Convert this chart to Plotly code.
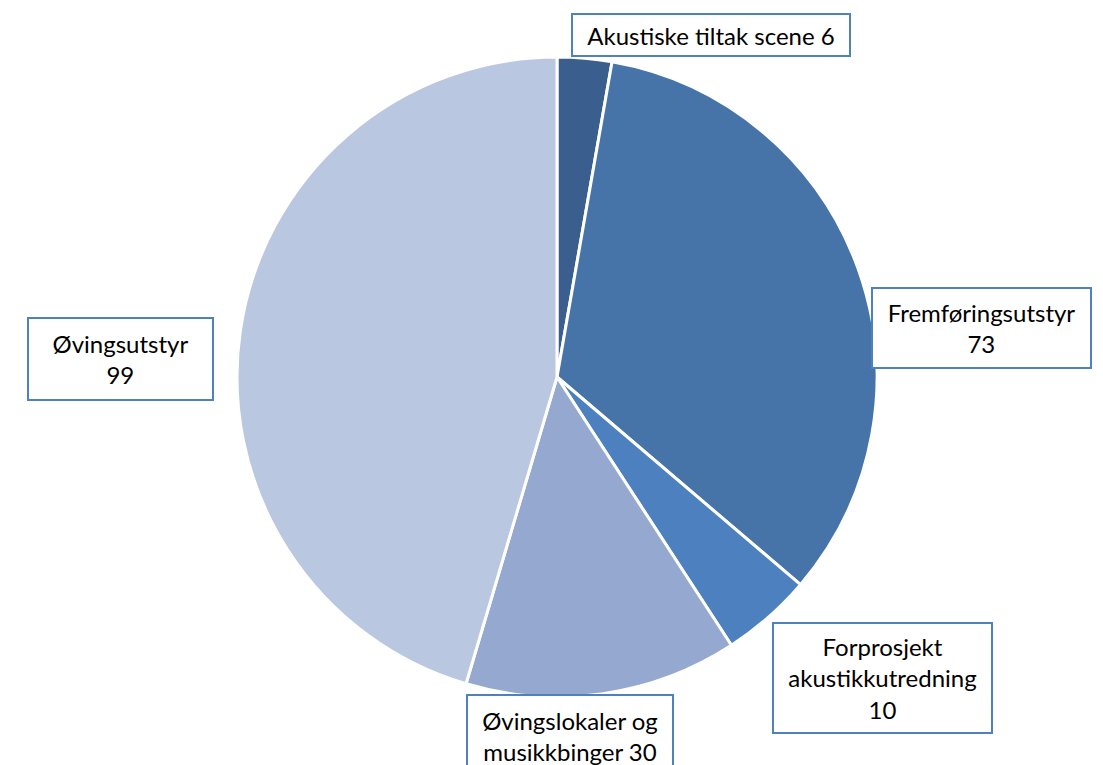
import plotly.graph_objects as go

labels = ["Akustiske tiltak scene", "Fremføringsutstyr", "Forprosjekt akustikkutredning",
          "Øvingslokaler og musikkbinger", "Øvingsutstyr"]
values = [6, 73, 10, 30, 99]
colors = ["#3A5F8F", "#4674A8", "#4D80BE", "#95A9D0", "#BAC7E0"]
label_texts = ["Akustiske tiltak scene 6", "Fremføringsutstyr<br>73",
               "Forprosjekt<br>akustikkutredning<br>10", "Øvingslokaler og<br>musikkbinger 30",
               "Øvingsutstyr<br>99"]

W, H = 1103, 765
OFF = 8  # page body margin offset
fig = go.Figure(go.Pie(
    labels=labels, values=values, sort=False, direction="clockwise", rotation=0,
    marker=dict(colors=colors, line=dict(color="white", width=3)),
    textinfo="none", hoverinfo="label+value", showlegend=False,
    domain=dict(x=[(237 - OFF) / W, (877 - OFF) / W], y=[1 - (697 - OFF) / H, 1 - (57 - OFF) / H]),
))

# box centers (px) and sizes (px)
boxes = [
    (711, 35, 278, 42),
    (982, 328, 219, 80),
    (882, 678, 219, 110),
    (570, 736, 206, 82),
    (120, 359, 185, 82),
]
anns = []
for txt, (cx, cy, bw, bh) in zip(label_texts, boxes):
    anns.append(dict(
        text=txt, x=(cx - OFF) / W, y=1 - (cy - OFF) / H, xref="paper", yref="paper",
        showarrow=False, xanchor="center", yanchor="middle",
        width=bw - 4, height=bh - 4, borderpad=1,
        bordercolor="#4F81BD", borderwidth=2, bgcolor="white",
        font=dict(family="Lato, Carlito, Calibri, sans-serif", size=24, color="black"),
        align="center",
    ))

fig.update_layout(
    width=W, height=H, margin=dict(l=0, r=0, t=0, b=0),
    paper_bgcolor="white", plot_bgcolor="white", annotations=anns,
)
fig.write_html("out.html")
